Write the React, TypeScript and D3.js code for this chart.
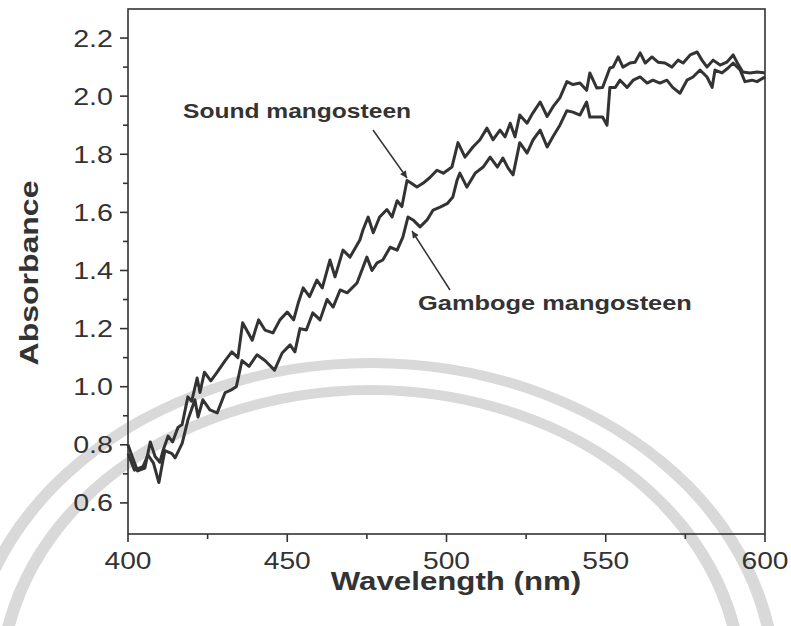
import { useEffect, useRef } from 'react';
import * as d3 from 'd3';

// [wavelength nm, absorbance]
const soundData: [number, number][] = [
  [400, 0.8], [401.3, 0.76], [403, 0.71], [405.3, 0.72], [407, 0.81], [408.5, 0.76], [410, 0.74],
  [411, 0.78], [412.6, 0.83], [414, 0.81], [415.7, 0.86], [417, 0.87], [418.8, 0.965], [420, 0.95],
  [421.7, 1.03], [422.6, 0.98], [424, 1.05], [426, 1.02], [428, 1.05], [430.5, 1.09], [432.6, 1.12],
  [434.5, 1.1], [436, 1.22], [437.5, 1.19], [439, 1.16], [441, 1.23], [443, 1.195], [445.5, 1.185],
  [447.7, 1.23], [450, 1.257], [452, 1.23], [453.5, 1.29], [455, 1.34], [457, 1.31], [459.3, 1.367],
  [461, 1.34], [463.4, 1.436], [465, 1.378], [467.5, 1.47], [469.7, 1.446], [472.8, 1.505],
  [473.8, 1.54], [475.4, 1.584], [477, 1.53], [479, 1.584], [481.3, 1.61], [482.9, 1.584],
  [484.5, 1.64], [486, 1.62], [487.6, 1.71], [489, 1.7], [490.7, 1.687], [492.6, 1.7], [494.8, 1.72],
  [497, 1.745], [499, 1.735], [501.7, 1.756], [503.6, 1.84], [505.8, 1.79], [508.3, 1.825],
  [510.5, 1.85], [512.7, 1.89], [514.6, 1.85], [516.8, 1.883], [518.4, 1.86], [520, 1.907],
  [521.5, 1.86], [523, 1.935], [525.3, 1.907], [527, 1.94], [529.4, 1.98], [531.6, 1.93],
  [533.4, 1.963], [535.6, 1.994], [537.8, 2.05], [539.7, 2.04], [541.9, 2.045], [544, 2.02],
  [545, 2.08], [547.2, 2.028], [549, 2.03], [551.3, 2.097], [552.3, 2.1], [553.9, 2.135],
  [555.4, 2.1], [557.6, 2.114], [559.2, 2.117], [560.8, 2.149], [562.4, 2.114], [564.5, 2.135],
  [566.4, 2.117], [568.6, 2.114], [570.8, 2.1], [572.7, 2.124], [574.3, 2.114], [576.5, 2.142],
  [578.7, 2.152], [580.2, 2.124], [581.8, 2.1], [583.7, 2.124], [585.9, 2.107], [588, 2.117],
  [590, 2.142], [591.2, 2.117], [593, 2.083], [595.3, 2.08], [597.5, 2.083], [600, 2.08],
];

const gambogeData: [number, number][] = [
  [400, 0.77], [402, 0.713], [404.7, 0.725], [406.3, 0.765], [408, 0.737], [409.7, 0.67],
  [411, 0.748], [411.6, 0.78], [413.8, 0.77], [414.8, 0.755], [417, 0.805], [418.8, 0.885],
  [421, 0.955], [422, 0.896], [423.5, 0.955], [425.7, 0.92], [428, 0.91], [430.5, 0.98],
  [432.6, 0.99], [434, 1.0], [435.8, 1.09], [438, 1.07], [440.5, 1.11], [443, 1.09], [446, 1.057],
  [448.4, 1.116], [450.9, 1.144], [452.4, 1.12], [454, 1.2], [456, 1.195], [458, 1.254],
  [460.3, 1.23], [462.5, 1.3], [464.4, 1.274], [466.6, 1.333], [468.8, 1.323], [471.9, 1.357],
  [475, 1.446], [476.6, 1.4], [478.2, 1.426], [480, 1.436], [482.3, 1.48], [484.5, 1.47],
  [486.3, 1.515], [487.9, 1.584], [489.5, 1.574], [491.7, 1.55], [493.9, 1.574], [495.8, 1.608],
  [498, 1.618], [500.2, 1.63], [502, 1.653], [503.3, 1.71], [504.2, 1.735], [506.4, 1.687],
  [509, 1.735], [511.5, 1.756], [513.7, 1.79], [516, 1.756], [517.7, 1.787], [519.3, 1.753],
  [520.9, 1.729], [523, 1.84], [525.3, 1.804], [527.2, 1.85], [529.4, 1.883], [531.6, 1.825],
  [533.4, 1.86], [535.6, 1.9], [537.8, 1.95], [539.7, 1.945], [541.9, 1.935], [544, 1.98],
  [545, 1.928], [547.2, 1.928], [549, 1.928], [550.4, 1.9], [551.3, 2.03], [553, 2.03],
  [554.5, 2.055], [556.7, 2.03], [558.6, 2.055], [560.8, 2.066], [563, 2.045], [564.8, 2.055],
  [567, 2.045], [569.2, 2.055], [571, 2.03], [573.3, 2.01], [575.5, 2.055], [577.4, 2.066],
  [579.6, 2.09], [581.8, 2.066], [583.4, 2.03], [584.3, 2.09], [586.5, 2.08], [588.4, 2.097],
  [590, 2.114], [592.2, 2.09], [593.7, 2.05], [595.9, 2.055], [597.5, 2.05], [600, 2.066],
];

const xTicks = [400, 450, 500, 550, 600];
const xMinorTicks = [425, 475, 525, 575];
const yTicks = [0.6, 0.8, 1.0, 1.2, 1.4, 1.6, 1.8, 2.0, 2.2];
const yMinorTicks = [0.7, 0.9, 1.1, 1.3, 1.5, 1.7, 1.9, 2.1];

const INK = '#333';
const FONT = '"Liberation Sans", Arial, sans-serif';

export default function App() {
  const svgRef = useRef<SVGSVGElement>(null);

  useEffect(() => {
    if (!svgRef.current) return;
    const svg = d3.select(svgRef.current);
    svg.selectAll('*').remove();

    const x = d3.scaleLinear().domain([400, 600]).range([128, 765]);
    const y = d3.scaleLinear().domain([0.493, 2.3]).range([534, 9]);

    const [x0, x1] = x.range();
    const [y0, y1] = y.range();

    // faint watermark arcs from the scanned page (page is stretched sideways)
    const wm = svg.append('g').attr('transform', 'translate(371,686) scale(1.25,1)');
    [323, 296].forEach((r) => {
      wm.append('path')
        .attr('d', d3.arc()({ innerRadius: r - 5, outerRadius: r + 5, startAngle: -2.4, endAngle: 2.4 }) as string)
        .attr('fill', '#d9d9d9');
    });

    // arrowhead
    svg
      .append('defs')
      .append('marker')
      .attr('id', 'arrow')
      .attr('viewBox', '0 0 10 10')
      .attr('refX', 10)
      .attr('refY', 5)
      .attr('markerWidth', 9)
      .attr('markerHeight', 7)
      .attr('markerUnits', 'userSpaceOnUse')
      .attr('orient', 'auto')
      .append('path')
      .attr('d', 'M0,0 L10,5 L0,10 z')
      .attr('fill', INK);

    // curves
    const line = d3
      .line<[number, number]>()
      .x((d) => x(d[0]))
      .y((d) => y(d[1]));

    [soundData, gambogeData].forEach((series) => {
      svg
        .append('path')
        .datum(series)
        .attr('d', line)
        .attr('fill', 'none')
        .attr('stroke', INK)
        .attr('stroke-width', 3)
        .attr('stroke-linejoin', 'round');
    });

    // frame
    svg
      .append('rect')
      .attr('x', x0)
      .attr('y', y1)
      .attr('width', x1 - x0)
      .attr('height', y0 - y1)
      .attr('fill', 'none')
      .attr('stroke', INK)
      .attr('stroke-width', 1.6);

    // ticks
    const tickG = svg.append('g').attr('stroke', INK).attr('stroke-width', 1.6);
    xTicks.forEach((t) =>
      tickG.append('line').attr('x1', x(t)).attr('x2', x(t)).attr('y1', y0).attr('y2', y0 + 8)
    );
    xMinorTicks.forEach((t) =>
      tickG.append('line').attr('x1', x(t)).attr('x2', x(t)).attr('y1', y0).attr('y2', y0 + 5)
    );
    yTicks.forEach((t) =>
      tickG.append('line').attr('x1', x0).attr('x2', x0 - 8).attr('y1', y(t)).attr('y2', y(t))
    );
    yMinorTicks.forEach((t) =>
      tickG.append('line').attr('x1', x0).attr('x2', x0 - 5).attr('y1', y(t)).attr('y2', y(t))
    );

    // the scan is wider than the font, so text gets a horizontal stretch
    const label = (
      tx: number,
      ty: number,
      text: string,
      size: number,
      stretch: number,
      anchor: string,
      bold = false,
      rotate = 0
    ) =>
      svg
        .append('text')
        .attr('transform', `translate(${tx},${ty}) rotate(${rotate}) scale(${stretch},1)`)
        .attr('text-anchor', anchor)
        .style('font-family', FONT)
        .style('font-size', `${size}px`)
        .style('font-weight', bold ? 'bold' : 'normal')
        .style('fill', INK)
        .text(text);

    // tick labels
    xTicks.forEach((t) => label(x(t), 569, String(t), 23.5, 1.2, 'middle'));
    yTicks.forEach((t) => label(x0 - 15, y(t) + 8.5, t.toFixed(1), 23.5, 1.22, 'end'));

    // axis titles
    label(456, 590, 'Wavelength (nm)', 25, 1.25, 'middle', true);
    label(38, 273, 'Absorbance', 25, 1.28, 'middle', true, -90);

    // annotations
    label(183, 118, 'Sound mangosteen', 20.5, 1.2, 'start', true);
    label(418, 310, 'Gamboge mangosteen', 20.5, 1.24, 'start', true);

    svg
      .append('line')
      .attr('x1', 373)
      .attr('y1', 130)
      .attr('x2', 407)
      .attr('y2', 178)
      .attr('stroke', INK)
      .attr('stroke-width', 1.5)
      .attr('marker-end', 'url(#arrow)');

    svg
      .append('line')
      .attr('x1', 450)
      .attr('y1', 290)
      .attr('x2', 412)
      .attr('y2', 231)
      .attr('stroke', INK)
      .attr('stroke-width', 1.5)
      .attr('marker-end', 'url(#arrow)');
  }, []);

  return (
    <div style={{ position: 'absolute', left: 0, top: 0, width: 791, height: 626, background: '#fff' }}>
      <svg ref={svgRef} width={791} height={626} style={{ display: 'block' }} />
    </div>
  );
}
